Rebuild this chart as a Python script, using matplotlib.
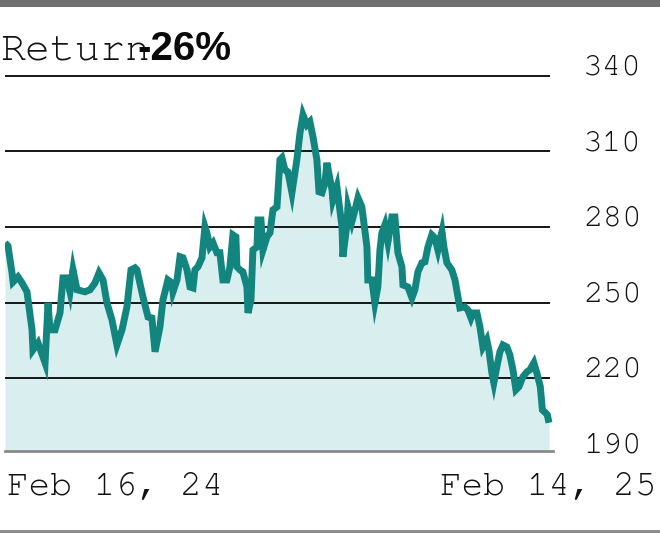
import matplotlib
matplotlib.use("Agg")
import matplotlib.pyplot as plt
import numpy as np
import logging
logging.getLogger("matplotlib.font_manager").setLevel(logging.ERROR)

# Days since Feb 16, 2024 and closing values
days = [0, 2.0, 4.7, 5.4, 8.7, 11.4, 14.7, 18.1, 18.7, 22.1, 26.8, 28.8, 30.1, 33.5, 36.8,
        38.8, 41.5, 43.5, 45.5, 48.2, 53.5, 56.9, 60.2, 62.9, 65.6, 68.2, 71.6, 74.9, 78.3,
        81.6, 84.3, 87.0, 88.3, 92.3, 95.7, 98.3, 100.4, 103.7, 105.7, 109.0, 111.7, 112.4,
        115.1, 117.1, 119.1, 121.8, 123.8, 125.8, 127.1, 129.1, 131.8, 133.8, 135.1, 137.1,
        139.2, 141.8, 143.8, 145.8, 148.5, 150.5, 152.5, 154.5, 155.2, 157.2, 159.2, 161.9,
        162.6, 164.6, 165.9, 168.6, 169.3, 171.3, 172.6, 175.3, 177.3, 179.3, 182.0, 184.0,
        185.3, 187.3, 189.3, 192.0, 195.3, 197.4, 199.4, 202.0, 204.0, 206.1, 208.7, 210.1,
        212.1, 214.1, 215.4, 218.8, 219.4, 222.1, 225.5, 226.1, 228.8, 229.5, 232.1, 234.2,
        236.2, 238.8, 242.2, 242.8, 245.5, 247.5, 249.5, 250.9, 252.2, 254.2, 256.2, 258.9,
        260.9, 262.9, 265.6, 266.3, 269.6, 272.3, 274.3, 276.3, 279.0, 281.0, 283.0, 285.6,
        287.7, 289.7, 292.4, 293.7, 295.7, 299.0, 301.1, 303.1, 304.4, 307.7, 309.7, 311.8,
        313.1, 315.8, 317.8, 319.8, 322.4, 323.8, 325.8, 327.1, 329.1, 331.2, 333.2, 335.8,
        337.8, 339.9, 341.9, 343.9, 346.5, 349.2, 351.2, 353.9, 355.9, 358.2, 359.6, 361.6,
        362.9, 364.0]
prices = [273.7, 272.5, 261.8, 258.2, 260.2, 257.8, 254.3, 239.2, 231.2, 234.0, 226.1, 249.9,
          239.2, 239.2, 245.9, 259.8, 259.8, 254.3, 263.0, 255.1, 254.3, 255.1, 257.8, 261.8,
          259.0, 249.9, 243.1, 233.2, 239.2, 248.3, 263.0, 263.8, 263.0, 252.3, 244.3, 243.9,
          230.5, 240.4, 251.1, 259.0, 257.8, 254.3, 259.0, 268.2, 267.8, 263.0, 256.2, 255.8,
          263.0, 264.2, 267.8, 280.1, 277.7, 272.1, 273.7, 269.8, 269.8, 259.0, 259.0, 264.2,
          276.9, 276.1, 264.2, 263.0, 262.2, 256.2, 245.9, 251.1, 270.9, 272.1, 282.8, 282.8,
          270.9, 276.1, 277.7, 286.8, 288.0, 306.7, 307.5, 302.7, 301.9, 293.6, 306.7, 317.4,
          324.5, 320.6, 321.8, 315.8, 306.7, 294.0, 293.6, 297.5, 305.5, 294.8, 290.8, 296.0,
          280.1, 268.2, 280.9, 288.0, 282.1, 286.8, 291.6, 288.0, 272.1, 259.0, 259.0, 249.9,
          256.2, 270.9, 277.7, 280.9, 274.1, 284.0, 284.0, 269.8, 264.2, 257.0, 256.2, 251.9,
          255.1, 262.2, 265.8, 266.2, 272.1, 276.9, 275.7, 270.9, 278.1, 272.1, 265.8, 263.0,
          259.0, 252.3, 247.9, 248.3, 247.1, 243.9, 245.9, 245.9, 240.4, 232.4, 235.2, 231.2,
          222.1, 218.2, 224.5, 230.5, 233.2, 232.4, 229.3, 223.3, 215.4, 216.6, 220.5, 222.5,
          223.3, 226.1, 222.1, 216.6, 207.4, 206.3, 205.5, 202.3]

grid_values = [220, 250, 280, 310, 340]
tick_labels = ["190", "220", "250", "280", "310", "340"]
tick_values = [190, 220, 250, 280, 310, 340]
x_labels = ["Feb 16, 24", "Feb 14, 25"]
title_text = "Return"
return_text = "-26%"

W, H = 660, 533
fig = plt.figure(figsize=(W / 100, H / 100), dpi=100)
fig.patch.set_facecolor("white")

mono = ["Courier New", "Nimbus Mono PS", "Nimbus Mono L", "FreeMono", "Courier Prime",
        "Liberation Mono", "DejaVu Sans Mono"]
sans_bold = ["Liberation Sans", "DejaVu Sans"]

# axes from x=5..553 px, y=60..451 px (from top)
ax = fig.add_axes([5 / W, (H - 451) / H, 548 / W, 391 / H])
ax.set_xlim(0, 366.7)
ax.set_ylim(191.1, 346.3)
ax.axis("off")

line_color = "#12857f"
fill_color = "#d8eeef"

ax.fill_between(days, prices, 191.1, color=fill_color, lw=0, zorder=1)
for g in grid_values:
    ax.plot([0, 364.5], [g, g], color="#151515", lw=1.4, zorder=2, solid_capstyle="butt")
ax.plot(days, prices, color=line_color, lw=5.0, zorder=3, solid_joinstyle="miter",
        solid_capstyle="butt")
ax.plot([0, 366.7], [191.1, 191.1], color="#8a8a8a", lw=2.0, zorder=4, clip_on=False)

# y tick labels
for v, lab in zip(tick_values, tick_labels):
    ax.text(1.0547, v + 3.3, lab, transform=ax.get_yaxis_transform(), ha="left",
            va="center", fontsize=23.5, family=mono, color="#111111")

# x labels
fig.text(7 / W, 1 - 487 / H, x_labels[0], ha="left", va="center", fontsize=26,
         family=mono, color="#111111")
fig.text(657 / W, 1 - 487 / H, x_labels[1], ha="right", va="center", fontsize=26,
         family=mono, color="#111111")

# title
fig.text(0 / W, 1 - 60 / H, title_text, ha="left", va="baseline", fontsize=30,
         family=mono, color="#111111")
fig.text(137 / W, 1 - 60 / H, return_text, ha="left", va="baseline", fontsize=29,
         family=sans_bold, weight="bold", color="#0a0a0a")

# top and bottom bars
fig.add_artist(plt.Rectangle((0, 1 - 7 / H), 1, 7 / H, transform=fig.transFigure,
                             color="#6f6f6f", lw=0))
fig.add_artist(plt.Rectangle((0, 0), 1, 3 / H, transform=fig.transFigure,
                             color="#8c8c8c", lw=0))

fig.savefig("out.png", dpi=100)
